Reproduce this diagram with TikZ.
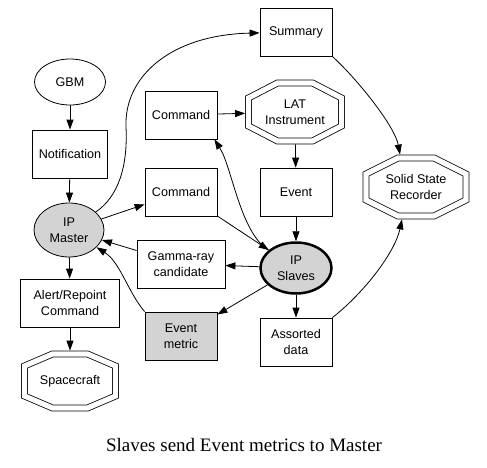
\documentclass[tikz,border=0pt]{standalone}
\usepackage{fontspec}
\setmainfont{Liberation Serif}
\setsansfont{Liberation Sans}
\usetikzlibrary{shapes.geometric,arrows.meta}

\definecolor{nodegray}{RGB}{211,211,211}

\tikzset{
  box/.style={draw, rectangle, minimum width=72pt, minimum height=48pt, inner sep=0pt, align=center},
  oval/.style={draw, ellipse, inner sep=0pt, align=center},
  octo/.style={rectangle, outer sep=3.4pt, inner sep=0pt, align=center},
  link/.style={-{Triangle[length=10pt,width=7pt]}},
}

% double octagon round a node: node, x chamfer, y chamfer
\newcommand{\octframe}[3]{%
  \draw[double, double distance=5.2pt]
    ([shift={(#2+3.4,-3.4)}]#1.north west) -- ([shift={(-#2-3.4,-3.4)}]#1.north east)
    -- ([shift={(-3.4,-#3-3.4)}]#1.north east) -- ([shift={(-3.4,#3+3.4)}]#1.south east)
    -- ([shift={(-#2-3.4,3.4)}]#1.south east) -- ([shift={(#2+3.4,3.4)}]#1.south west)
    -- ([shift={(3.4,#3+3.4)}]#1.south west) -- ([shift={(3.4,-#3-3.4)}]#1.north west) -- cycle;}

\begin{document}
\begin{tikzpicture}[x=1pt, y=1pt, line width=0.8pt, font=\sffamily\fontsize{12.6}{16}\selectfont]
  \useasboundingbox (0,0) rectangle (487,467);

  % left column
  \node[oval, minimum width=71pt, minimum height=46pt] (gbm) at (70,385) {GBM};
  \node[box, minimum width=75pt] (notif) at (70,313) {Notification};
  \node[oval, fill=nodegray, minimum width=70pt, minimum height=54pt] (master) at (69,237) {IP\\Master};
  \node[box, minimum width=99pt] (alert) at (70,164) {Alert/Repoint\\Command};
  \node[octo, minimum width=91pt, minimum height=54pt] (craft) at (70,86) {Spacecraft};

  % middle column
  \node[box] (cmdA) at (181,352) {Command};
  \node[box] (cmdB) at (181,275) {Command};
  \node[box, minimum width=88pt] (gamma) at (181,203) {Gamma-ray\\candidate};
  \node[box, fill=nodegray] (metric) at (181,131) {Event\\metric};

  % right columns
  \node[box] (summary) at (296,435) {Summary};
  \node[octo, minimum width=93pt, minimum height=58pt] (lat) at (295,355) {LAT\\Instrument};
  \node[box] (event) at (296,275) {Event};
  \node[oval, fill=nodegray, line width=2.5pt, minimum width=71pt, minimum height=51pt] (slaves) at (296,199) {IP\\Slaves};
  \node[box] (assorted) at (296,125) {Assorted\\data};
  \node[octo, minimum width=100pt, minimum height=58pt] (ssr) at (416,280) {Solid State\\Recorder};

  \octframe{craft}{28}{12}
  \octframe{lat}{29}{15}
  \octframe{ssr}{32}{16}

  \node[font=\rmfamily\fontsize{19}{22}\selectfont] (caption) at (244,22) {Slaves send Event metrics to Master};

  \coordinate (bend) at (126,340);

  \draw[link] (gbm) -- (notif);
  \draw[link] (notif) -- (master);
  \draw[link] (master) -- (alert);
  \draw[link] (alert) -- (craft);
  \draw[link] (master) -- (cmdB);
  \draw[link] (master) .. controls (118,270) and (128,300) .. (bend) .. controls (124,390) and (170,432) .. (summary);
  \draw[link] (cmdA) -- (lat);
  \draw[link] (lat) -- (event);
  \draw[link] (event) -- (slaves);
  \draw[link] (cmdB) -- (slaves);
  \draw[link] (slaves) .. controls (240,235) and (232,300) .. ([xshift=-3pt]cmdA.south east);
  \draw[link] (slaves) -- (gamma);
  \draw[link] (gamma) -- (master);
  \draw[link] (slaves) -- (metric);
  \draw[link] (metric.north west) .. controls (128,175) and (120,205) .. (master);
  \draw[link] (slaves) -- (assorted);
  \draw[link] (summary.south east) .. controls (360,385) and (395,340) .. ([xshift=-16pt]ssr.north);
  \draw[link] (assorted.north east) .. controls (365,175) and (395,215) .. ([xshift=-14pt]ssr.south);
\end{tikzpicture}
\end{document}
